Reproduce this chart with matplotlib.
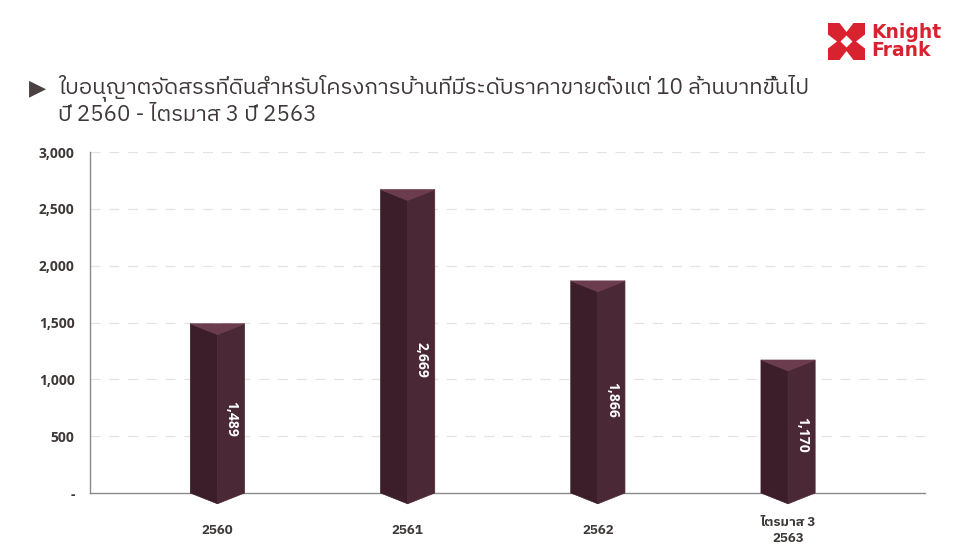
import matplotlib
matplotlib.use("Agg")
import matplotlib.pyplot as plt
from matplotlib import font_manager
from matplotlib.ft2font import FT2Font
from matplotlib.patches import Polygon, Rectangle

# ข้อมูล
categories = ["2560", "2561", "2562", "ไตรมาส 3\n2563"]
values = [1489, 2669, 1866, 1170]
value_labels = ["1,489", "2,669", "1,866", "1,170"]
yticks = [0, 500, 1000, 1500, 2000, 2500, 3000]
ytick_labels = ["-", "500", "1,000", "1,500", "2,000", "2,500", "3,000"]
title1 = "ใบอนุญาตจัดสรรที่ดินสำหรับโครงการบ้านที่มีระดับราคาขายตั้งแต่ 10 ล้านบาทขึ้นไป"
title2 = "ปี 2560 - ไตรมาส 3 ปี 2563"

# หาฟอนต์ที่มีอักษรไทย
thai_font = None
for f in sorted(font_manager.fontManager.ttflist, key=lambda f: ("Thai" not in f.name, f.name)):
    try:
        if 0x0E01 in FT2Font(f.fname).get_charmap():
            thai_font = f.name
            break
    except Exception:
        pass
fams = [thai_font, "Lato", "DejaVu Sans"] if thai_font else ["Lato", "DejaVu Sans"]
plt.rcParams["font.family"] = fams
num_fams = ["Open Sans", "Lato", "DejaVu Sans"]

txt_col = "#3f3838"
c_left, c_right, c_top = "#3c1e2a", "#4b2835", "#6b3b4e"

fig = plt.figure(figsize=(9.6, 5.58), dpi=100)
ax = fig.add_axes([90 / 960, 1 - 493 / 558, (925 - 90) / 960, (493 - 152) / 558])
ax.set_xlim(-0.67, 3.72)
ax.set_ylim(0, 3000)

for s in ["top", "right"]:
    ax.spines[s].set_visible(False)
for s in ["left", "bottom"]:
    ax.spines[s].set_color("#8a8a8a")
    ax.spines[s].set_linewidth(1)

ax.set_yticks(yticks)
ax.set_yticklabels(ytick_labels, fontsize=10, fontweight="bold", color=txt_col)
ax.tick_params(axis="y", length=0, pad=11)
for t in ax.get_yticklabels():
    t.set_family(num_fams)
for yv in yticks[1:]:
    ax.axhline(yv, color="#e3e3e3", lw=0.9, ls=(0, (8, 7)), zorder=0)

ax.set_xticks(range(len(categories)))
ax.set_xticklabels(categories, fontsize=9.5, fontweight="bold", color=txt_col, linespacing=1.25)
ax.tick_params(axis="x", length=0, pad=27)
for t in ax.get_xticklabels():
    t.set_verticalalignment("center")

# แท่งปริซึม
w = 0.285
d = 95
for i, v in enumerate(values):
    L, C, R = i - w / 2, i, i + w / 2
    left = Polygon([(L, v), (C, v - d), (C, -d), (L, 0)], closed=True,
                   facecolor=c_left, edgecolor=c_left, lw=0.5, clip_on=False, zorder=3)
    right = Polygon([(C, v - d), (R, v), (R, 0), (C, -d)], closed=True,
                    facecolor=c_right, edgecolor=c_right, lw=0.5, clip_on=False, zorder=3)
    top = Polygon([(L, v), (R, v), (C, v - d)], closed=True,
                  facecolor=c_top, edgecolor=c_top, lw=0.5, clip_on=False, zorder=4)
    for p in (left, right, top):
        ax.add_patch(p)
    ax.text(i + 0.075, v * 0.44, value_labels[i], rotation=-90, color="white",
            fontsize=10, fontweight="bold", ha="center", va="center", zorder=5,
            family=num_fams)

# หัวเรื่อง
fig.text(29 / 960, 1 - 88 / 558, "▶", fontsize=16, color="#4a4141", ha="left", va="center",
         family=["DejaVu Sans"])
fig.text(58 / 960, 1 - 88 / 558, title1, fontsize=16, color=txt_col, ha="left", va="center")
fig.text(58 / 960, 1 - 115 / 558, title2, fontsize=16, color=txt_col, ha="left", va="center")

# โลโก้ Knight Frank
red = "#d9222f"
lx, ly, ls = 828, 23, 37
def fpt(x, y):
    return (x / 960, 1 - y / 558)
fig.patches.append(Rectangle(fpt(lx, ly + ls), ls / 960, ls / 558, transform=fig.transFigure,
                             facecolor=red, edgecolor="none"))
h = ls / 2
notches = [
    [(lx + h - 7, ly), (lx + h + 7, ly), (lx + h, ly + 9)],
    [(lx + h - 7, ly + ls), (lx + h + 7, ly + ls), (lx + h, ly + ls - 9)],
    [(lx, ly + h - 7), (lx, ly + h + 7), (lx + 9, ly + h)],
    [(lx + ls, ly + h - 7), (lx + ls, ly + h + 7), (lx + ls - 9, ly + h)],
    [(lx + h, ly + h - 6), (lx + h + 6, ly + h), (lx + h, ly + h + 6), (lx + h - 6, ly + h)],
]
for n in notches:
    fig.patches.append(Polygon([fpt(x, y) for x, y in n], closed=True, transform=fig.transFigure,
                               facecolor="white", edgecolor="none"))
fig.text(871 / 960, 1 - 32 / 558, "Knight", fontsize=13.5, fontweight="bold", color=red,
         ha="left", va="center", family=["Liberation Sans Narrow", "DejaVu Sans"])
fig.text(871 / 960, 1 - 51 / 558, "Frank", fontsize=13.5, fontweight="bold", color=red,
         ha="left", va="center", family=["Liberation Sans Narrow", "DejaVu Sans"])

fig.savefig("out.png", dpi=100, facecolor="white")
